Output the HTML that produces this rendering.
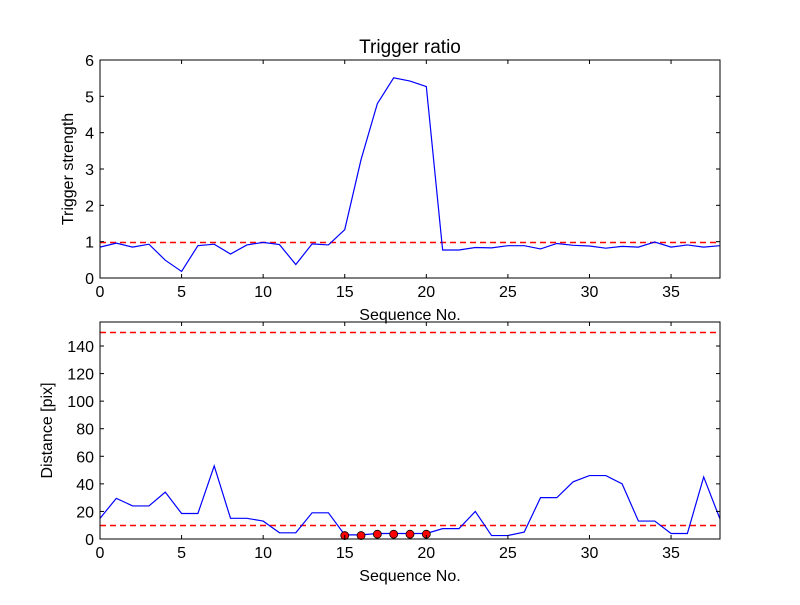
<!DOCTYPE html>
<html><head><meta charset="utf-8"><style>
body{margin:0;background:#fff}
svg text{font-family:"Liberation Sans",sans-serif;fill:#000}
</style></head><body>
<svg id="c" width="800" height="600" xmlns="http://www.w3.org/2000/svg">
<rect width="800" height="600" fill="#fff"/>
</svg>
<script>
const seq = Array.from({length:39},(_, i)=>i);
const triggerStrength = [0.85,0.96,0.85,0.93,0.49,0.18,0.89,0.93,0.66,0.91,0.98,0.92,0.37,0.94,0.91,1.33,3.26,4.8,5.51,5.42,5.27,0.77,0.77,0.84,0.83,0.89,0.89,0.8,0.95,0.9,0.88,0.82,0.87,0.85,0.99,0.85,0.91,0.85,0.89];
const triggerThreshold = 1;
const distance = [15,29.5,24,24,34,18.5,18.5,53,15,15,13,4.5,4.5,19,19,3,3,4,4,4,4,7.5,7.5,20,2.5,2.5,5,30,30,41.5,46,46,40,13,13,4,4,45,14.5];
const markerSeq = [15,16,17,18,19,20];
const markerDist = [2.5,2.5,3.5,3.5,3.5,3.5];
const distThresholds = [10,150];
const xTicks = [0,5,10,15,20,25,30,35];
const topYTicks = [0,1,2,3,4,5,6];
const botYTicks = [0,20,40,60,80,100,120,140];

const svg = document.getElementById('c');
const NS = 'http://www.w3.org/2000/svg';
function mk(tag, attrs, parent){const e=document.createElementNS(NS,tag);for(const k in attrs)e.setAttribute(k,attrs[k]);(parent||svg).appendChild(e);return e;}
const L=100,R=720;
const xs = v => L + v*(R-L)/38;
const yTop = v => 278 - v*(278-60)/6;
const yBot = v => 539 - v*(539-346)/140;

function axes(name){
  const g=mk('g',{});
  
  
  return g;
}
const g1=axes('top-panel');
const ty=Math.round(yTop(triggerThreshold))+0.5;
const tl=mk('line',{x1:L,x2:R,y1:ty,y2:ty,stroke:'#ff0000','stroke-width':1.5,'stroke-dasharray':'6,4'},g1);


const p1=mk('polyline',{points:seq.map(i=>xs(i)+','+yTop(triggerStrength[i])).join(' '),fill:'none',stroke:'#0000ff','stroke-width':1.2},g1);


const g2=axes('bottom-panel');
distThresholds.forEach(t=>{
  const yy=Math.round(yBot(t))+0.5;
  const l=mk('line',{x1:L,x2:R,y1:yy,y2:yy,stroke:'#ff0000','stroke-width':1.5,'stroke-dasharray':'6,4'},g2);
  
  
});
const p2=mk('polyline',{points:seq.map(i=>xs(i)+','+yBot(distance[i])).join(' '),fill:'none',stroke:'#0000ff','stroke-width':1.2},g2);


markerSeq.forEach((s,i)=>{
  const c=mk('circle',{cx:xs(s),cy:yBot(markerDist[i]),r:4,fill:'#f00',stroke:'#000','stroke-width':0.8},g2);
  
  
});

function frame(g,top,bottom,yScale,yTicks,ylabel){
  mk('rect',{x:L,y:top,width:R-L,height:bottom-top,fill:'none',stroke:'#000','stroke-width':1},g);
  xTicks.forEach(t=>{
    mk('line',{x1:xs(t),x2:xs(t),y1:bottom,y2:bottom-4,stroke:'#000'},g);
    mk('line',{x1:xs(t),x2:xs(t),y1:top,y2:top+4,stroke:'#000'},g);
    const tx=mk('text',{x:xs(t),y:bottom+19,'font-size':16,'text-anchor':'middle'},g);
    tx.textContent=t;
    
    
  });
  yTicks.forEach(t=>{
    mk('line',{x1:L,x2:L+4,y1:yScale(t),y2:yScale(t),stroke:'#000'},g);
    mk('line',{x1:R,x2:R-4,y1:yScale(t),y2:yScale(t),stroke:'#000'},g);
    const tx=mk('text',{x:L-6,y:yScale(t)+6,'font-size':16,'text-anchor':'end'},g);
    tx.textContent=t;
    
    
  });
  const xl=mk('text',{x:410,y:bottom+42,'font-size':16,'text-anchor':'middle'},g);
  xl.textContent='Sequence No.';
  
  
  const cy=(top+bottom)/2;
  const yl=mk('text',{x:0,y:0,'font-size':16,'text-anchor':'middle',transform:`translate(${ylabel[1]},${cy}) rotate(-90)`},g);
  yl.textContent=ylabel[0];
  
  
}
frame(g1,60,278,yTop,topYTicks,['Trigger strength',73]);
frame(g2,322,539,yBot,botYTicks,['Distance [pix]',52]);
const title=mk('text',{x:410,y:53,'font-size':19,'text-anchor':'middle'});
title.textContent='Trigger ratio';


</script>
</body></html>
